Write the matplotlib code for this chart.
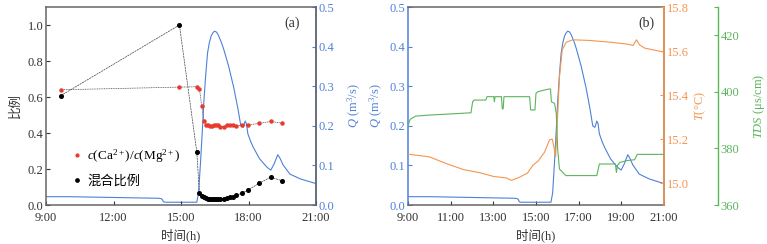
import matplotlib
matplotlib.use("Agg")
import matplotlib.pyplot as plt
from matplotlib.lines import Line2D
from matplotlib.ticker import FixedLocator, FuncFormatter

plt.rcParams['font.family'] = ['Liberation Serif', 'Noto Sans CJK SC']
plt.rcParams['mathtext.fontset'] = 'custom'
plt.rcParams['mathtext.rm'] = 'Liberation Serif'
plt.rcParams['mathtext.it'] = 'Liberation Serif:italic'
plt.rcParams['font.size'] = 9

# ---------------- data ----------------
# panel (a): ratio samples (decimal hours)
ratio_t = [9.65, 14.93, 15.70, 15.82, 15.92, 16.02, 16.12, 16.20, 16.28, 16.37, 16.45,
           16.55, 16.63, 16.75, 16.90, 17.05, 17.18, 17.30, 17.45, 17.70, 17.97,
           18.47, 18.98, 19.48]
ca_mg = [0.64, 0.655, 0.657, 0.645, 0.55, 0.468, 0.447, 0.442, 0.44, 0.44, 0.442,
         0.442, 0.442, 0.436, 0.436, 0.442, 0.445, 0.447, 0.44, 0.442, 0.445,
         0.453, 0.464, 0.455]
mix_ratio = [0.607, 1.0, 0.296, 0.066, 0.05, 0.043, 0.039, 0.035, 0.033, 0.032, 0.032,
             0.032, 0.032, 0.033, 0.035, 0.039, 0.043, 0.047, 0.054, 0.065, 0.083,
             0.12, 0.155, 0.135]

# discharge Q (m3/s)
q_t = [9.0, 10.0, 11.0, 12.0, 13.0, 14.0, 14.12, 14.17, 14.22, 14.3, 15.0, 15.7,
       15.78, 15.87, 15.95, 16.02, 16.1, 16.18, 16.26, 16.34, 16.42, 16.49, 16.57,
       16.65, 16.8, 16.9, 17.12, 17.35, 17.54, 17.66, 17.76, 17.85, 17.91, 17.97,
       18.1, 18.21, 18.5, 18.83, 18.99, 19.14, 19.3, 19.41, 19.53, 19.84, 20.3, 21.0]
q_v = [0.021, 0.021, 0.020, 0.019, 0.018, 0.017, 0.016, 0.014, 0.008, 0.007, 0.007,
       0.007, 0.03, 0.11, 0.19, 0.265, 0.33, 0.384, 0.41, 0.427, 0.435, 0.439, 0.437,
       0.43, 0.41, 0.393, 0.35, 0.295, 0.24, 0.2, 0.196, 0.212, 0.205, 0.18, 0.16,
       0.146, 0.116, 0.095, 0.088, 0.104, 0.127, 0.117, 0.102, 0.078, 0.066, 0.054]

# water temperature T (degC)
temp_t = [9.0, 10.0, 10.8, 11.6, 12.4, 13.0, 13.6, 13.85, 14.2, 14.6, 14.85, 15.1,
          15.4, 15.63, 15.76, 15.84, 15.92, 15.99, 16.1, 16.23, 16.42, 16.73, 17.5,
          18.5, 19.3, 19.55, 19.71, 19.85, 20.1, 21.0]
temp_v = [15.131, 15.119, 15.088, 15.061, 15.046, 15.03, 15.023, 15.012, 15.025,
          15.045, 15.08, 15.1, 15.14, 15.195, 15.2, 15.164, 15.12, 15.255, 15.483,
          15.605, 15.64, 15.651, 15.648, 15.64, 15.631, 15.625, 15.651, 15.628,
          15.613, 15.595]

# TDS (us/cm)
tds_t = [9.0, 9.1, 9.35, 10.0, 11.0, 11.95, 12.03, 12.1, 12.65, 12.7, 13.02, 13.05,
         13.08, 13.13, 13.38, 13.42, 13.46, 13.5, 14.7, 14.75, 14.95, 15.0, 15.1,
         15.6, 15.68, 15.72, 15.87, 15.95, 16.02, 16.1, 16.4, 17.85, 17.97, 18.72,
         18.77, 18.82, 18.92, 19.25, 19.62, 19.75, 21.0]
tds_v = [387.9, 390.3, 391.4, 391.8, 392.2, 392.6, 396.5, 397.1, 397.1, 398.3, 398.3,
         396.5, 398.3, 398.3, 398.3, 394.0, 394.0, 398.3, 398.3, 393.6, 393.6, 399.5,
         400.1, 401.0, 401.0, 396.5, 395.9, 392.4, 379.3, 372.7, 370.4, 370.4, 374.5,
         374.5, 371.5, 374.0, 375.0, 375.7, 376.0, 377.9, 377.9]

ticks_a = [9, 12, 15, 18, 21]
ticks_b = [9, 11, 13, 15, 17, 19, 21]
ratio_label = '比例'
time_label = '时间(h)'
leg_labels = [r'$c$(Ca$^{2+}$)/$c$(Mg$^{2+}$)', '混合比例']

# ---------------- style ----------------
BLUE = '#4f80d8'
ORANGE = '#f5954f'
GREEN = '#5bb55b'
RED = '#e83a2e'
GREY = '#666666'
TXT = '#333333'

hfmt = FuncFormatter(lambda v, p: f'{int(round(v))}:00')

fig = plt.figure(figsize=(7.67, 2.44), dpi=100)
axA = fig.add_axes([46/767, 1-205/244, 270/767, 198/244])
axB = fig.add_axes([408/767, 1-205/244, 256/767, 198/244])

def base_style(ax):
    for s in ['top', 'bottom', 'left', 'right']:
        ax.spines[s].set_color(GREY)
        ax.spines[s].set_linewidth(1.1)
    ax.tick_params(direction='in', length=3, width=0.8, labelsize=9,
                   colors=TXT, pad=2)
    ax.tick_params(axis='x', pad=5)

# ---------------- panel (a) ----------------
base_style(axA)
axA.plot(ratio_t, mix_ratio, color='#444444', lw=0.5, ls=(0, (3, 1)), zorder=3)
axA.plot(ratio_t, mix_ratio, ls='none', marker='o', ms=2.6, color='black', zorder=4)
axA.plot(ratio_t, ca_mg, color='#444444', lw=0.5, ls=(0, (1.5, 1)), zorder=3)
axA.plot(ratio_t, ca_mg, ls='none', marker='o', ms=2.2, color=RED, zorder=4)
axA.set_xlim(9, 21)
axA.set_ylim(0, 1.1)
axA.set_xticks(ticks_a)
axA.xaxis.set_major_formatter(hfmt)
axA.set_yticks([0, 0.2, 0.4, 0.6, 0.8, 1.0])
axA.yaxis.set_major_formatter(FuncFormatter(lambda v, p: f'{v:.1f}'))
axA.set_ylabel(ratio_label, color=TXT, fontsize=9, labelpad=4)
axA.set_xlabel(time_label, color=TXT, fontsize=9, labelpad=3)
axA.text(0.91, 0.92, '(a)', transform=axA.transAxes, ha='center', va='center',
         fontsize=10, color=TXT)

axA2 = axA.twinx()
axA2.plot(q_t, q_v, color=BLUE, lw=0.8, zorder=2)
axA2.set_ylim(0, 0.5)
axA2.set_yticks([0, 0.1, 0.2, 0.3, 0.4, 0.5])
axA2.yaxis.set_major_formatter(FuncFormatter(lambda v, p: f'{v:.1f}'))
for s in ['top', 'bottom', 'left']:
    axA2.spines[s].set_visible(False)
axA2.spines['right'].set_color(BLUE)
axA2.spines['right'].set_linewidth(1.1)
axA2.tick_params(axis='y', direction='in', length=3, width=0.8, labelsize=9,
                 colors=BLUE, pad=2)
axA2.set_ylabel(r'$Q$ (m$^3$/s)', color=BLUE, fontsize=9, labelpad=8)
axA.set_zorder(axA2.get_zorder() + 1)
axA.patch.set_visible(False)

handles = [Line2D([], [], ls='none', marker='o', ms=2.0, color=RED),
           Line2D([], [], ls='none', marker='o', ms=2.4, color='black')]
axA.legend(handles, leg_labels, loc='lower left', bbox_to_anchor=(0.08, 0.06),
           frameon=False, handlelength=0.6, handletextpad=0.5, labelspacing=0.75,
           fontsize=9.5, borderaxespad=0)

# ---------------- panel (b) ----------------
base_style(axB)
axB.plot(q_t, q_v, color=BLUE, lw=0.8)
axB.set_xlim(9, 21)
axB.set_ylim(0, 0.5)
axB.set_xticks(ticks_b)
axB.xaxis.set_major_formatter(hfmt)
axB.set_yticks([0, 0.1, 0.2, 0.3, 0.4, 0.5])
axB.yaxis.set_major_formatter(FuncFormatter(lambda v, p: f'{v:.1f}'))
axB.spines['left'].set_color(BLUE)
axB.tick_params(axis='y', colors=BLUE)
axB.set_ylabel(r'$Q$ (m$^3$/s)', color=BLUE, fontsize=9, labelpad=3)
axB.set_xlabel(time_label, color=TXT, fontsize=9, labelpad=3)
axB.text(0.93, 0.92, '(b)', transform=axB.transAxes, ha='center', va='center',
         fontsize=10, color=TXT)

axT = axB.twinx()
axT.plot(temp_t, temp_v, color=ORANGE, lw=0.8)
axT.set_ylim(14.9, 15.8)
axT.set_yticks([15.0, 15.2, 15.4, 15.6, 15.8])
axT.yaxis.set_major_formatter(FuncFormatter(lambda v, p: f'{v:.1f}'))
for s in ['top', 'bottom', 'left']:
    axT.spines[s].set_visible(False)
axT.spines['right'].set_color(ORANGE)
axT.spines['right'].set_linewidth(1.1)
axT.tick_params(axis='y', direction='in', length=3, width=0.8, labelsize=9,
                colors=ORANGE, pad=2)
axT.set_ylabel(r'$T$(°C)', color=ORANGE, fontsize=9, labelpad=3)

axD = axB.twinx()
axD.spines['right'].set_position(('axes', 1 + 54/256))
axD.plot(tds_t, tds_v, color=GREEN, lw=0.8)
axD.set_ylim(360, 430)
axD.yaxis.set_major_locator(FixedLocator([360, 380, 400, 420, 430]))
axD.yaxis.set_major_formatter(FuncFormatter(lambda v, p: '' if v > 425 else f'{int(v)}'))
for s in ['top', 'bottom', 'left']:
    axD.spines[s].set_visible(False)
axD.spines['right'].set_color(GREEN)
axD.spines['right'].set_linewidth(1.0)
axD.tick_params(axis='y', direction='in', length=3, width=0.8, labelsize=9,
                colors=GREEN, pad=2)
axD.set_ylabel(r'$TDS$ (μs/cm)', color=GREEN, fontsize=9, labelpad=8)

fig.savefig('out.png', dpi=100)
